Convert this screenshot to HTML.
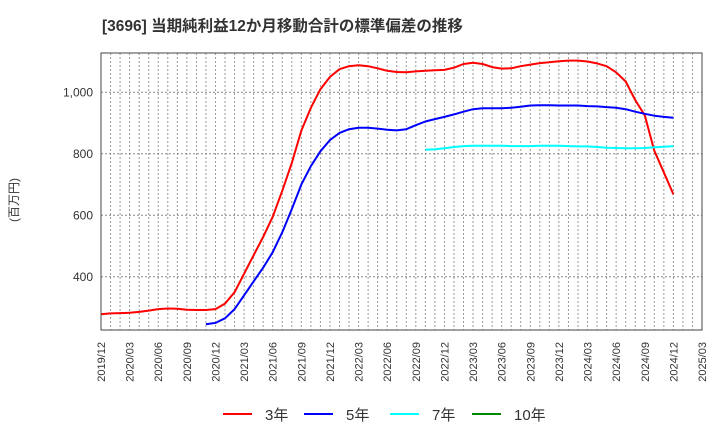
<!DOCTYPE html>
<html><head><meta charset="utf-8"><style>
body{margin:0;background:#fff;}
svg{display:block;font-family:"Liberation Sans","Noto Sans CJK JP",sans-serif;}
</style></head><body>
<svg id="chart" width="720" height="440">
<text x="102" y="31" font-size="15.5" font-weight="bold" fill="#333">[3696]  当期純利益12か月移動合計の標準偏差の推移</text>
<text transform="translate(18,200) rotate(-90)" text-anchor="middle" font-size="12" fill="#333">(百万円)</text>
<g id="grid"></g><g id="series"></g><g id="axes"></g>
<g id="legend"></g>
</svg>
<script>
const yTicks=[400,600,800,1000];
const yTickLabels=["400","600","800","1,000"];
const xLabels=["2019/12","2020/03","2020/06","2020/09","2020/12","2021/03","2021/06","2021/09","2021/12","2022/03","2022/06","2022/09","2022/12","2023/03","2023/06","2023/09","2023/12","2024/03","2024/06","2024/09","2024/12","2025/03"];
const red3=[278,281,282,283,286,290,295,297,296,293,292,292,295,313,350,410,470,530,595,680,770,875,950,1010,1050,1075,1085,1088,1085,1078,1070,1066,1065,1068,1070,1072,1073,1080,1092,1096,1092,1082,1077,1078,1085,1090,1095,1098,1101,1103,1103,1100,1094,1085,1065,1035,975,925,810,740,668];
const blue5Start=11;
const blue5=[246,250,265,295,340,385,430,480,545,620,700,760,808,845,868,880,885,885,882,878,876,880,893,905,913,920,928,937,945,948,948,948,950,953,957,958,958,957,957,957,955,954,952,950,945,937,930,924,920,917];
const cyan7Start=34;
const cyan7=[813,815,818,822,825,826,826,826,826,825,825,825,826,826,826,825,824,824,822,820,819,818,818,819,821,823,825];
const legendNames=["3年","5年","7年","10年"];
const legendColors=["#f00","#00f","#0ff","#080"];
const L=101,R=702,T=53,B=330,NM=63;
const x=m=>L+(R-L)*m/NM;
const y=v=>92.3+(1000-v)*61.5/200;
const NS="http://www.w3.org/2000/svg";
function mk(tag,attrs,parent){const e=document.createElementNS(NS,tag);for(const k in attrs)e.setAttribute(k,attrs[k]);parent.appendChild(e);return e;}
const grid=document.getElementById('grid'),axes=document.getElementById('axes'),ser=document.getElementById('series'),leg=document.getElementById('legend');
for(let m=1;m<NM;m++){const l=mk('line',{x1:x(m),x2:x(m),y1:T,y2:B,stroke:'#999','stroke-dasharray':'2,2','stroke-width':1},grid);

}
yTicks.forEach((v,i)=>{const l=mk('line',{x1:L,x2:R,y1:y(v),y2:y(v),stroke:'#888','stroke-dasharray':'2,2'},grid);


const t=mk('text',{x:L-8,y:y(v)+4,'text-anchor':'end','font-size':12,fill:'#333'},axes);t.textContent=yTickLabels[i];

});
const fr=mk('rect',{x:L,y:T,width:R-L,height:B-T,fill:'none',stroke:'#444','stroke-width':1},axes);


xLabels.forEach((s,i)=>{const t=mk('text',{transform:`translate(${x(i*3)+4},342) rotate(-90)`,'text-anchor':'end','font-size':11,fill:'#333'},axes);t.textContent=s;

});
function line(data,start,color,name){const p=data.map((v,i)=>x(start+i).toFixed(1)+','+y(v).toFixed(1)).join(' ');
const e=mk('polyline',{points:p,fill:'none',stroke:color,'stroke-width':2,'stroke-linejoin':'round'},ser);

}
line(red3,0,'#f00','series-3y');
line(blue5,blue5Start,'#00f','series-5y');
line(cyan7,cyan7Start,'#0ff','series-7y');
const lx=[223,304,390,472];
legendNames.forEach((n,i)=>{const l=mk('line',{x1:lx[i],x2:lx[i]+29,y1:414,y2:414,stroke:legendColors[i],'stroke-width':2},leg);


const t=mk('text',{x:lx[i]+42,y:420,'font-size':15,fill:'#333'},leg);t.textContent=n;

});
</script>
</body></html>
